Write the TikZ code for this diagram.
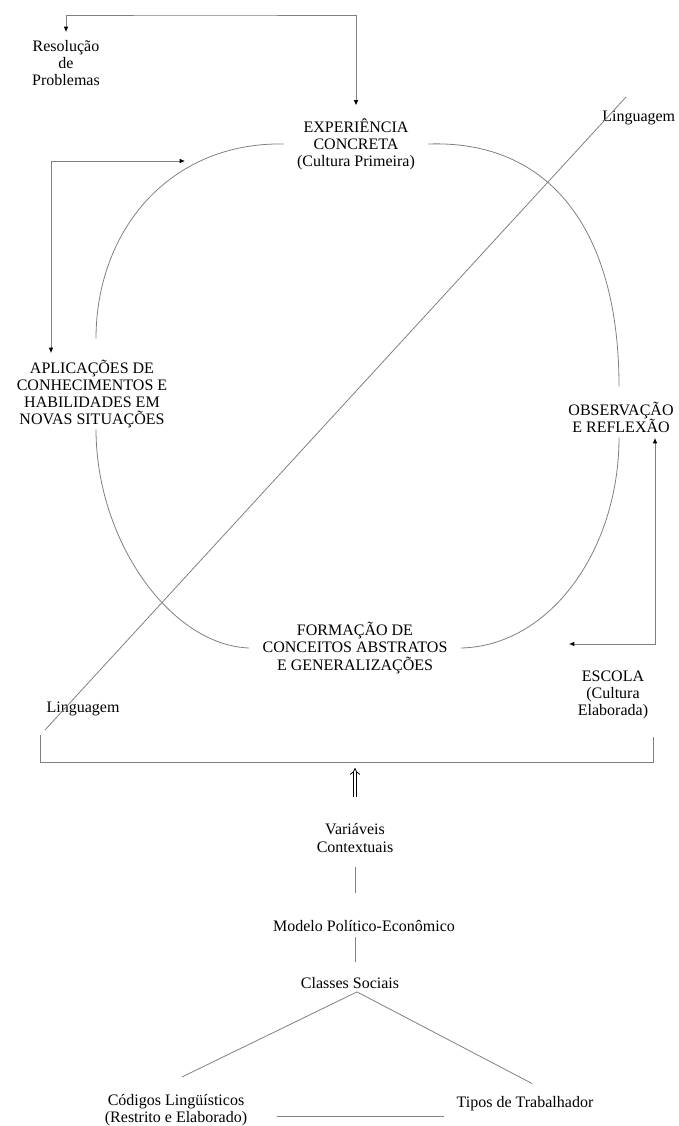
\documentclass[tikz,border=0pt]{standalone}
\usepackage{fontspec}
\setmainfont{Liberation Serif}
\usetikzlibrary{arrows.meta,calc}

\begin{document}
\begin{tikzpicture}[
  x=0.75pt, y=-0.75pt,
  txt/.style={font=\fontsize{12}{12.8}\selectfont, align=center, inner sep=0pt, text=black},
  ln/.style={draw=black!50, line width=0.6pt},
  arw/.style={ln, {Latex[length=4pt,width=3.5pt,black]}-{Latex[length=4pt,width=3.5pt,black]}},
  dblarw/.style={draw=black, double, double distance=2pt, line width=0.6pt, -{Implies}}
  ]

\useasboundingbox (0,0) rectangle (678,1126);

% ciclo
\node [txt] (res) at (66,63) {Resolução\\de\\Problemas};
\node [txt, inner xsep=10pt] (exp) at (356,144) {EXPERIÊNCIA\\CONCRETA\\(Cultura Primeira)};
\node [txt] (apl) at (92,394) {APLICAÇÕES DE\\CONHECIMENTOS E\\HABILIDADES EM\\NOVAS SITUAÇÕES};
\node [txt] (obs) at (621,417) {OBSERVAÇÃO\\E REFLEXÃO};
\node [txt, inner xsep=10pt] (frm) at (355,648) {FORMAÇÃO DE\\CONCEITOS ABSTRATOS\\E GENERALIZAÇÕES};
\node [txt] (esc) at (613,695) {ESCOLA\\(Cultura\\Elaborada)};
\node [txt, anchor=west] (lgT) at (602,118) {Linguagem};
\node [txt] (lgB) at (83,709) {Linguagem};

\draw [ln] (exp.west) .. controls (170,142) and (96,230) .. ($(apl.north)+(4,-21)$);
\draw [ln] ($(apl.south)+(4,1)$) .. controls (96,540) and (170,645) .. (frm.west);
\draw [ln] (frm.east) .. controls (550,646) and (619,550) .. ($(obs.south)+(-2,5)$);
\draw [ln] ($(obs.north)+(-2,-15)$) .. controls (619,230) and (550,140) .. (exp.east);

% retornos
\coordinate (topc) at (200,15);
\coordinate (lbtip) at (185,161);
\coordinate (rfin) at (569,644);
\coordinate (rfup) at (655,438);
\draw [arw, shorten <=6pt, shorten >=9.5pt] (res.north) |- (topc) -| (exp.north);
\draw [arw, shorten >=5pt] (lbtip) -| (apl.north -| 51,0);
\draw [arw] (rfin) -| (rfup);

% linguagem
\coordinate (lnT) at (626,97);
\coordinate (lnB) at (45,730);
\draw [ln] (lnT) -- (lnB);

% chave
\coordinate (brL) at (40,735);
\coordinate (brR) at (653,737);
\draw [ln] (brL) |- (brR |- 0,762) -- (brR);

% contexto
\node [txt] (var) at (355,838) {Variáveis\\Contextuais};
\node [txt] (mod) at (364,926) {Modelo Político-Econômico};
\node [txt] (cls) at (350,983) {Classes Sociais};
\node [txt] (cod) at (176,1110) {Códigos Lingüísticos\\(Restrito e Elaborado)};
\node [txt] (tip) at (525,1104) {Tipos de Trabalhador};

\draw [dblarw, shorten <=20pt, shorten >=4.5pt] (var.north) -- (var.north |- 0,762);
\draw [ln, shorten <=11pt, shorten >=20pt] (var.south) -- (var.south |- mod.north);
\draw [ln, shorten <=4pt, shorten >=11pt] (mod.south -| var.south) -- (cls.north -| var.south);
\draw [ln] ($(cls.south)+(7,3)$) -- ($(cod.north)+(6,-17)$);
\draw [ln] ($(cls.south)+(7,3)$) -- ($(tip.north)+(7,-13)$);
\draw [ln, shorten <=22pt, shorten >=9pt] (cod.east |- 0,1116) -- (tip.west |- 0,1116);

\end{tikzpicture}
\end{document}
